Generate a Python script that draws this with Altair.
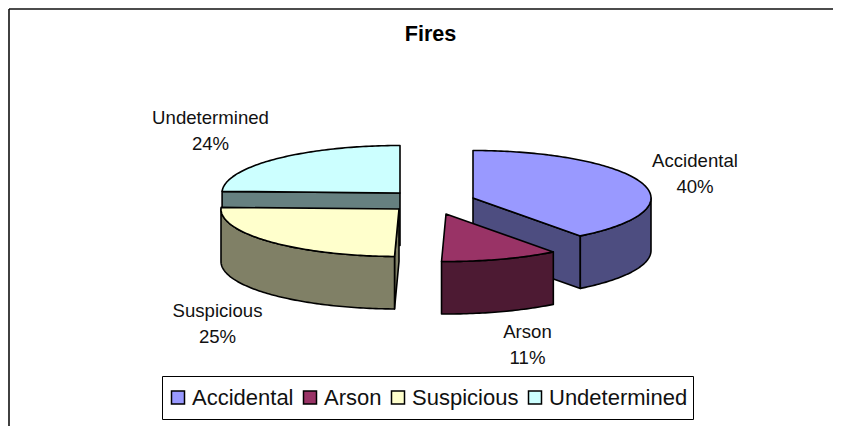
import numpy as np
import pandas as pd
import altair as alt

# --- data ---
categories = ["Accidental", "Arson", "Suspicious", "Undetermined"]
shares = [39.7, 10.7, 25.15, 24.45]

# --- styles and layout ---
top_colors = ["#9999FF", "#993366", "#FFFFCC", "#CCFFFF"]
side_colors = ["#4D4D80", "#4D1A33", "#808066", "#668080"]
centers = [(473, 198), (446, 214), (399, 209), (400, 193)]
label_pos = [(695, 167), (527.5, 338), (217.5, 317), (210.5, 124)]
RX, RY, DEPTH = 178, 47.5, 52.5
W, H = 825, 418


def arc(c, a0, a1):
    t = np.radians(np.linspace(a0, a1, max(int(abs(a1 - a0)), 2) + 1))
    return np.column_stack([c[0] + RX * np.sin(t), c[1] - RY * np.cos(t)])


x_enc = lambda f="px": alt.X(f"{f}:Q", axis=None, scale=alt.Scale(domain=[8, 8 + W], nice=False, zero=False))
y_enc = lambda f="py": alt.Y(f"{f}:Q", axis=None, scale=alt.Scale(domain=[8 + H, 8], nice=False, zero=False))


def poly(points, fill):
    df = pd.DataFrame({"px": points[:, 0], "py": points[:, 1], "ord": np.arange(len(points))})
    return alt.Chart(df).mark_line(
        interpolate="linear-closed", fill=fill, stroke="black", strokeWidth=1.6, strokeJoin="round"
    ).encode(x=x_enc(), y=y_enc(), order=alt.Order("ord:Q"))


edges = np.concatenate([[0], np.cumsum(shares) * 3.6])
down = np.array([0, DEPTH])
slices = {}
for i in range(4):
    c, a0, a1 = np.array(centers[i], float), edges[i], edges[i + 1]
    parts = []
    # visible cut faces
    if a1 < 180:                      # face at the closing edge looks at the viewer
        e = arc(c, a1, a1)[0]
        parts.append(poly(np.array([c, e, e + down, c + down]), side_colors[i]))
    if a0 > 180:                      # face at the opening edge looks at the viewer
        e = arc(c, a0, a0)[0]
        parts.append(poly(np.array([c, e, e + down, c + down]), side_colors[i]))
    # visible rim
    lo, hi = max(a0, 90), min(a1, 270)
    if hi > lo:
        rim = arc(c, lo, hi)
        parts.append(poly(np.vstack([rim, rim[::-1] + down]), side_colors[i]))
    # top face
    parts.append(poly(np.vstack([c[None, :], arc(c, a0, a1)]), top_colors[i]))
    slices[i] = parts

order = [3, 2, 0, 1]
poly_layers = [p for i in order for p in slices[i]]

# frame
frame_top = alt.Chart(pd.DataFrame({"px": [9], "px2": [833], "py": [9]})).mark_rule(
    color="#111111", strokeWidth=1.6
).encode(x=x_enc(), x2="px2:Q", y=y_enc())
frame_left = alt.Chart(pd.DataFrame({"px": [9], "py": [9], "py2": [426]})).mark_rule(
    color="#111111", strokeWidth=1.6
).encode(x=x_enc(), y=y_enc(), y2="py2:Q")

# data labels
labels_df = pd.DataFrame({
    "px": [p[0] for p in label_pos],
    "py": [p[1] for p in label_pos],
    "txt": [f"{n}\n{round(v)}%" for n, v in zip(categories, shares)],
})
labels = alt.Chart(labels_df).mark_text(
    font="Liberation Sans", fontSize=18.6, color="#111111", lineBreak="\n", lineHeight=26,
    align="center", baseline="alphabetic",
).encode(x=x_enc(), y=y_enc(), text="txt:N")

# legend carrier
legend_df = pd.DataFrame({"cat": categories, "px": [30] * 4, "py": [30] * 4})
legend_layer = alt.Chart(legend_df).mark_square(opacity=0, size=169).encode(
    x=x_enc(), y=y_enc(),
    color=alt.Color(
        "cat:N",
        scale=alt.Scale(domain=categories, range=top_colors),
        legend=alt.Legend(
            title=None, orient="none", direction="horizontal", columns=4,
            legendX=154, legendY=368, padding=5, fillColor="white",
            strokeColor="black", symbolType="square", symbolSize=169,
            symbolOpacity=1, symbolStrokeColor="black", symbolStrokeWidth=1.5,
            labelFont="Liberation Sans", labelFontSize=22, labelColor="#111111",
            labelOffset=3, columnPadding=5, labelLimit=300, clipHeight=33,
        ),
    ),
)

chart = alt.layer(frame_top, frame_left, *poly_layers, labels, legend_layer).properties(
    width=W, height=H,
    padding=0,
    autosize=alt.AutoSizeParams(type="none"),
    title=alt.TitleParams(
        "Fires", font="Liberation Sans", fontSize=21.6, fontWeight="bold", color="black",
        anchor="middle", frame="group", offset=-55, baseline="alphabetic", dx=10,
    ),
).configure_view(stroke=None)

chart.save("out.html", embed_options={"renderer": "svg", "actions": False})
